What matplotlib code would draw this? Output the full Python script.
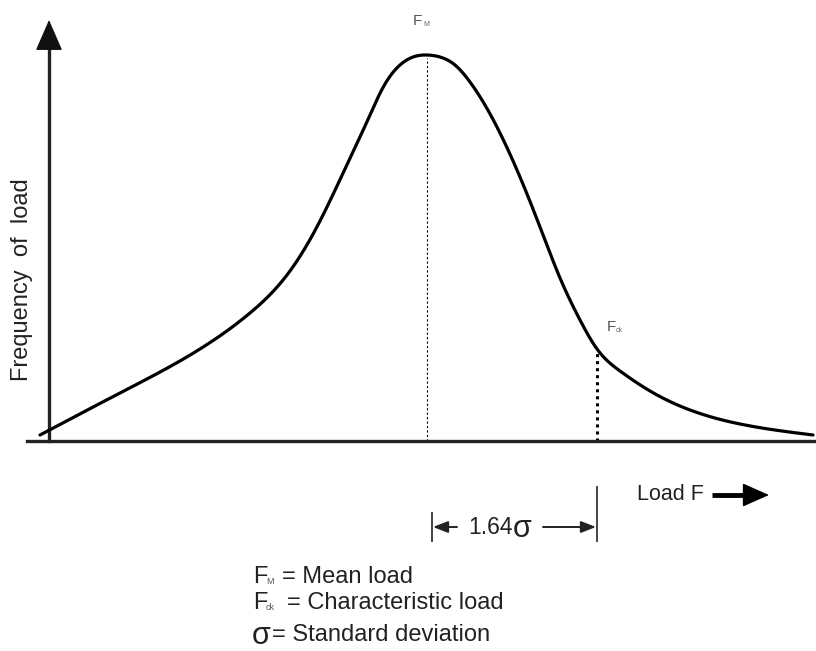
import matplotlib
matplotlib.use("Agg")
import matplotlib.pyplot as plt
import numpy as np

plt.rcParams['font.family'] = ['Liberation Sans', 'DejaVu Sans']

# Load values (horizontal) and frequency values (vertical)
load = [40, 120, 200, 250, 290, 320, 345, 365, 385, 400, 413, 427,
        440, 455, 470, 485, 500, 520, 540, 560, 580, 597, 620, 650, 690, 740, 813]
freq = [6, 48, 92, 128, 170, 220, 272, 315, 357, 376, 384, 386,
        384, 376, 359, 336, 308, 264, 214, 163, 121, 92, 70, 50, 31, 17, 6]
mean_load = 427
char_load = 597
sigma_label = "1.64"
legend_lines = [("F", "M", "= Mean load"), ("F", "ck", "= Characteristic load")]


def natural_spline(x, y, xs):
    x = np.asarray(x, float); y = np.asarray(y, float)
    n = len(x); h = np.diff(x)
    A = np.zeros((n, n)); r = np.zeros(n)
    A[0, 0] = A[-1, -1] = 1
    for i in range(1, n - 1):
        A[i, i-1] = h[i-1]; A[i, i] = 2*(h[i-1] + h[i]); A[i, i+1] = h[i]
        r[i] = 6*((y[i+1] - y[i])/h[i] - (y[i] - y[i-1])/h[i-1])
    M = np.linalg.solve(A, r)
    idx = np.clip(np.searchsorted(x, xs) - 1, 0, n - 2)
    x0 = x[idx]; x1 = x[idx+1]; hh = h[idx]
    a = (x1 - xs)/hh; b = (xs - x0)/hh
    return (a*y[idx] + b*y[idx+1] + ((a**3 - a)*M[idx] + (b**3 - b)*M[idx+1])*hh**2/6)


fig = plt.figure(figsize=(8.16, 6.51), dpi=100)
ax = fig.add_axes([0, 0, 1, 1])
ax.set_xlim(0, 816)
ax.set_ylim(-210, 441)
ax.axis('off')

xs = np.linspace(min(load), max(load), 1000)
ys = natural_spline(load, freq, xs)
ax.plot(xs, ys, color='black', lw=2.3, solid_capstyle='round', zorder=3)

# axes
ax.plot([27, 816], [0, 0], color='#222222', lw=2.4, zorder=2)
ax.plot([49, 49], [0, 400], color='#222222', lw=2.4, zorder=2)
ax.annotate('', xy=(49, 421), xytext=(49, 395),
            arrowprops=dict(arrowstyle='-|>,head_length=1.1,head_width=0.48', color='#111111', lw=1,
                            mutation_scale=18, shrinkA=0, shrinkB=0))

# mean line
yi_mean = float(natural_spline(load, freq, np.array([mean_load]))[0])
ax.plot([mean_load, mean_load], [0, yi_mean - 3], color='black', lw=0.8, ls=(0, (2, 2)), zorder=1)
# characteristic line
yi_ck = float(natural_spline(load, freq, np.array([char_load]))[0])
ax.plot([char_load, char_load], [0, yi_ck - 3], color='black', lw=2.2, ls=(0, (1, 1.3)), zorder=1)

# labels
ax.text(413, 420, 'F', fontsize=11, color='#555555', ha='left', va='center')
ax.text(423, 416, 'M', fontsize=5, color='#666666', ha='left', va='center')
ax.text(607, 114, 'F', fontsize=11, color='#555555', ha='left', va='center')
ax.text(616, 110, 'ck', fontsize=5, color='#666666', ha='left', va='center')

ax.text(22, 161, 'Frequency  of  load', fontsize=17, rotation=90, ha='center', va='center', color='#222222')

ax.text(637, -54, 'Load F', fontsize=15.5, ha='left', va='center', color='#222222')
ax.plot([712, 747], [-54, -54], color='black', lw=3.5, solid_capstyle='butt')
ax.annotate('', xy=(769, -54), xytext=(745, -54),
            arrowprops=dict(arrowstyle='-|>,head_length=0.95,head_width=0.42', color='black', lw=1,
                            mutation_scale=18, shrinkA=0, shrinkB=0))

# dimension 1.64 sigma
ax.plot([432, 432], [-72, -100], color='#444444', lw=1.4)
ax.plot([597, 597], [-46, -100], color='#444444', lw=1.4)
ax.annotate('', xy=(433, -86), xytext=(457, -86),
            arrowprops=dict(arrowstyle='-|>,head_length=0.9,head_width=0.35', color='#222222', lw=1.4,
                            mutation_scale=10, shrinkA=0, shrinkB=0))
ax.text(468, -86, sigma_label, fontsize=16.5, ha='left', va='center', color='#222222')
ax.text(513, -88, 'σ', fontsize=22, ha='left', va='center', color='#222222')
ax.annotate('', xy=(596, -86), xytext=(543, -86),
            arrowprops=dict(arrowstyle='-|>,head_length=0.9,head_width=0.35', color='#222222', lw=1.4,
                            mutation_scale=10, shrinkA=0, shrinkB=0))

# legend text
ly = [-136, -162]
rest_x = [282, 287]
for (f, sub, rest), y, rx in zip(legend_lines, ly, rest_x):
    ax.text(253, y, f, fontsize=17, ha='left', va='center', color='#222222')
    ax.text(266, y - 5, sub, fontsize=6.5, ha='left', va='center', color='#555555')
    ax.text(rx, y, rest, fontsize=17, ha='left', va='center', color='#222222')
ax.text(252, -195, 'σ', fontsize=22, ha='left', va='center', color='#222222')
ax.text(272, -194, '= Standard deviation', fontsize=17, ha='left', va='center', color='#222222')

fig.savefig('out.png', dpi=100)
